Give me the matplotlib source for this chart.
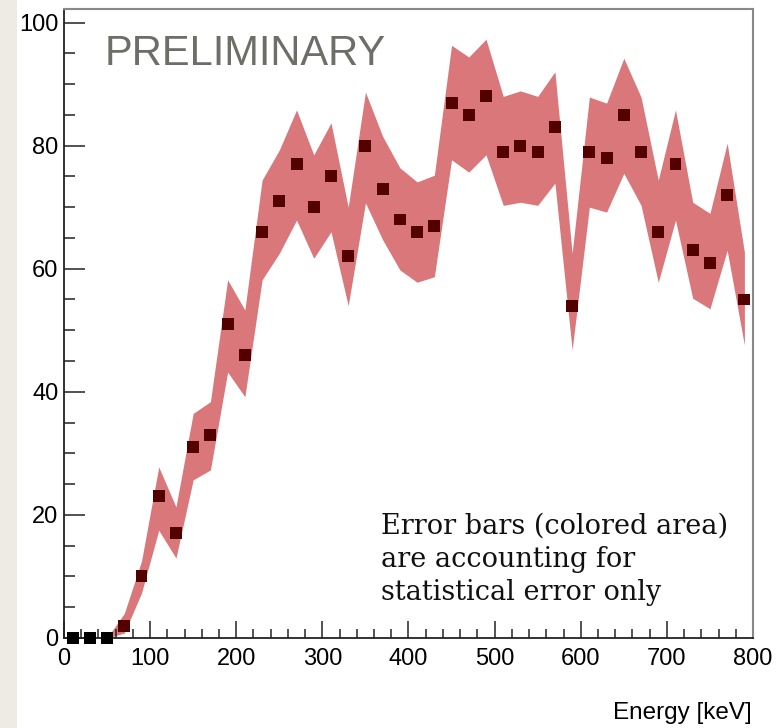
import numpy as np
import matplotlib
matplotlib.use("Agg")
import matplotlib.pyplot as plt
from matplotlib.patches import Rectangle
from matplotlib.ticker import MultipleLocator

# centri dei bin in energia (keV)
energy = [10, 30, 50, 70, 90, 110, 130, 150, 170, 190,
          210, 230, 250, 270, 290, 310, 330, 350, 370, 390,
          410, 430, 450, 470, 490, 510, 530, 550, 570, 590,
          610, 630, 650, 670, 690, 710, 730, 750, 770, 790]

# valori misurati
values = [0, 0, 0, 2, 10, 23, 17, 31, 33, 51,
          46, 66, 71, 77, 70, 75, 62, 80, 73, 68,
          66, 67, 87, 85, 88, 79, 80, 79, 83, 54,
          79, 78, 85, 79, 66, 77, 63, 61, 72, 55]

# bordo superiore e inferiore della banda d'errore
upper = [0, 0, 0, 4, 12.5, 27.8, 21.3, 36.5, 38.4, 58.2,
         53.3, 74.4, 79.3, 85.8, 78.5, 83.7, 70, 88.7, 81.5, 76.4,
         74.1, 75.2, 96.3, 94.4, 97.3, 88, 88.9, 88, 92, 62.5,
         87.9, 86.9, 94.2, 87.9, 74.4, 85.8, 70.8, 69, 80.4, 62.7]
lower = [0, 0, 0, 0.8, 7.3, 17.5, 13, 25.7, 27.3, 43.2,
         39.2, 58.2, 62.5, 67.9, 61.7, 66, 54, 70.7, 64.7, 59.8,
         57.8, 58.7, 77.7, 75.7, 78.5, 70.3, 70.8, 70.3, 73.9, 46.8,
         70, 69.2, 75.5, 70.3, 57.8, 67.9, 55.2, 53.5, 63, 47.6]

band_color = '#d9777a'
marker_color = '#520000'

fig = plt.figure(figsize=(7.83, 7.28), dpi=100)
fig.patch.set_facecolor('white')

# striscia beige sul bordo sinistro
fig.patches.append(Rectangle((0, 0), 17 / 783, 1, transform=fig.transFigure,
                             facecolor='#eeebe5', edgecolor='none', zorder=0))

ax = fig.add_axes([64 / 783, 1 - 638 / 728, (753 - 64) / 783, (638 - 9) / 728])

ax.fill_between(energy, lower, upper, color=band_color, linewidth=0, zorder=1)

pt_colors = ['black' if v == 0 else marker_color for v in values]
ax.scatter(energy, values, marker='s', s=8.6 ** 2, c=pt_colors, linewidths=0,
           zorder=3, clip_on=False)

ax.set_xlim(0, 800)
ax.set_ylim(0, 102.2)

ax.xaxis.set_major_locator(MultipleLocator(100))
ax.xaxis.set_minor_locator(MultipleLocator(20))
ax.yaxis.set_major_locator(MultipleLocator(20))
ax.yaxis.set_minor_locator(MultipleLocator(5))

ax.tick_params(axis='both', which='both', direction='in', top=False, right=False,
               width=1.1, color='#222222', labelsize=17)
ax.tick_params(axis='x', which='major', length=12.5, pad=7)
ax.tick_params(axis='x', which='minor', length=6.5)
ax.tick_params(axis='y', which='major', length=15, pad=4)
ax.tick_params(axis='y', which='minor', length=8)
for lab in ax.get_xticklabels() + ax.get_yticklabels():
    lab.set_fontfamily('Liberation Sans')

for side in ['left', 'bottom']:
    ax.spines[side].set_color('#222222')
    ax.spines[side].set_linewidth(1.3)
for side in ['top', 'right']:
    ax.spines[side].set_color('#888888')
    ax.spines[side].set_linewidth(1.5)

ax.text(47.5, 93.1, 'PRELIMINARY', fontsize=30, color='#6e6e68',
        family='Liberation Sans', va='baseline', ha='left')

# con va='baseline' conta la linea di base dell'ultima riga
ax.text(367.5, 6.2, 'Error bars (colored area)\nare accounting for\nstatistical error only',
        fontsize=19.5, family='DejaVu Serif', va='baseline', ha='left',
        linespacing=1.3, color='#111111')

fig.text(752 / 783, 1 - 719 / 728, 'Energy [keV]', fontsize=17.5, family='Liberation Sans',
         ha='right', va='baseline')

fig.savefig('out.png', dpi=100)
